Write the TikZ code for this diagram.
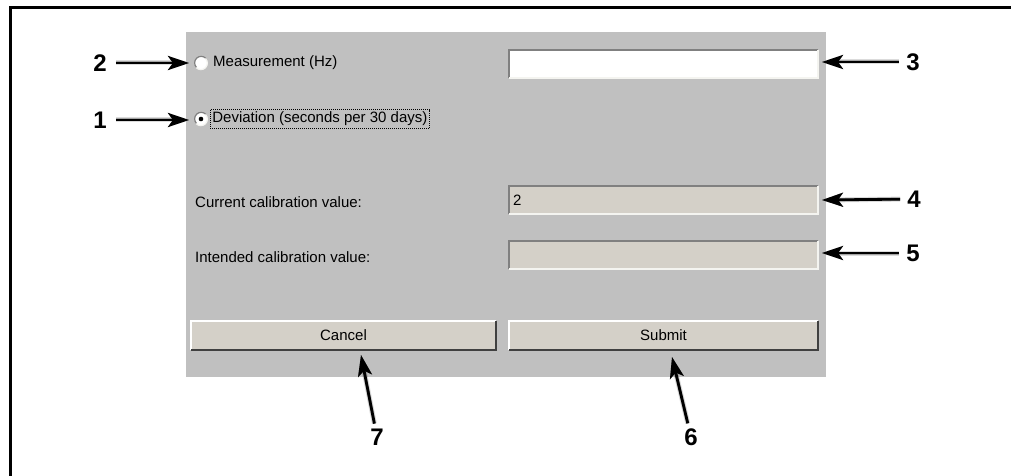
\documentclass[tikz,border=0pt]{standalone}
\usepackage{fontspec}
\setmainfont{Liberation Sans}
\usetikzlibrary{arrows.meta,calc}
\definecolor{panelgray}{HTML}{C0C0C0}
\definecolor{fieldgray}{HTML}{D4D0C8}
\definecolor{edgedark}{HTML}{808080}
\definecolor{edgedeep}{HTML}{404040}
\definecolor{edgelight}{HTML}{F4F4F0}

% callout arrow with a soft drop shadow: \callarrow{from}{to}{start gap}
\newcommand\callarrow[3]{%
  \draw[calloutshade, line width=5pt, opacity=0.14, shift={(3,5)}, shorten <=#3] (#1) -- (#2);
  \draw[calloutshade, line width=3pt, opacity=0.25, shift={(2,4)}, shorten <=#3] (#1) -- (#2);
  \draw[callout, shorten <=#3] (#1) -- (#2);
}

\begin{document}
\begin{tikzpicture}[x=1pt, y=-1pt,
  ui/.style={font=\fontsize{15}{18}\selectfont, inner sep=0pt, text=black},
  num/.style={font=\fontsize{24}{27}\selectfont\bfseries, inner sep=3pt},
  field/.style={minimum width=309pt, minimum height=28pt, inner sep=0pt, fill=fieldgray},
  button/.style={minimum width=#1, minimum height=29pt, inner sep=0pt, fill=fieldgray,
    font=\fontsize{15}{18}\selectfont},
  callout/.style={line width=2.8pt, black,
    -{Stealth[length=21pt, width=14pt, inset=5pt]}},
  calloutshade/.style={black,
    -{Stealth[length=21pt, width=14pt, inset=5pt]}},
  radio/.style={circle, minimum size=13pt, inner sep=0pt, fill=white},
]
\useasboundingbox (0,0) rectangle (1011,476);
\fill[white] (0,0) rectangle (1011,476);

% outer frame (top and left edges)
\draw[line width=3pt] (1013,7.5) -- (10,7.5) -- (10,478);

% dialog panel
\fill[panelgray] (186,32) rectangle (826,377);

% option rows
\node[radio] (r2) at (201,63) {};
\node[radio] (r1) at (201,119) {};
\foreach \r in {r1,r2}{
  \draw[edgedark, line width=1.2pt] (\r.north east) arc[start angle=45, end angle=225, radius=6.5pt];
  \draw[edgelight, line width=1.2pt] (\r.south west) arc[start angle=225, end angle=405, radius=6.5pt];
}
\fill[black] (r1) circle[radius=2.3pt];
\node[ui, anchor=west] (meas) at (213,63) {Measurement (Hz)};
\node[ui, anchor=west, draw=black, line width=0.7pt, dash pattern=on 1pt off 1pt,
      inner xsep=2pt, inner ysep=2.5pt] (dev) at (210,119) {Deviation (seconds per 30 days)};

% input fields
\node[field, fill=white] (f3) at (663.5,64) {};
\node[field] (f4) at (663.5,200) {};
\node[field] (f5) at (663.5,255) {};
\foreach \f in {f3,f4,f5}{
  \draw[edgedark, line width=2pt] (\f.south west) -- (\f.north west) -- (\f.north east);
  \draw[edgelight, line width=1.5pt] (\f.north east) -- (\f.south east) -- (\f.south west);
}
\node[ui, anchor=west] (v4) at ($(f4.west)+(4,0)$) {2};
\node[ui, anchor=west] (l4) at (195,202) {Current calibration value:};
\node[ui, anchor=west] (l5) at (195,257) {Intended calibration value:};

% buttons
\node[button=305pt] (cancel) at (343.5,335.5) {Cancel};
\node[button=309pt] (submit) at (663.5,335.5) {Submit};
\foreach \b in {cancel,submit}{
  \draw[white, line width=1.5pt] (\b.south west) -- (\b.north west) -- (\b.north east);
  \draw[edgedeep, line width=2pt] (\b.north east) -- (\b.south east) -- (\b.south west);
}

% callout numbers
\node[num] (n2) at (100,63) {2};
\node[num] (n1) at (100,120) {1};
\node[num] (n3) at (913,62) {3};
\node[num] (n4) at (914,199) {4};
\node[num] (n5) at (913,253) {5};
\node[num] (n7) at (377,437) {7};
\node[num] (n6) at (691,437) {6};

\coordinate (t2) at (189,63);
\coordinate (t1) at (189,120);
\coordinate (t3) at (822,62);
\coordinate (t4) at (822,200);
\coordinate (t5) at (822,253);
\coordinate (t7) at (361,355);
\coordinate (t6) at (672,357);

\callarrow{n2}{t2}{6pt}
\callarrow{n1}{t1}{6pt}
\callarrow{n3}{t3}{4pt}
\callarrow{n4}{t4}{4pt}
\callarrow{n5}{t5}{4pt}
\callarrow{n7}{t7}{2pt}
\callarrow{n6}{t6}{2pt}
\end{tikzpicture}
\end{document}
